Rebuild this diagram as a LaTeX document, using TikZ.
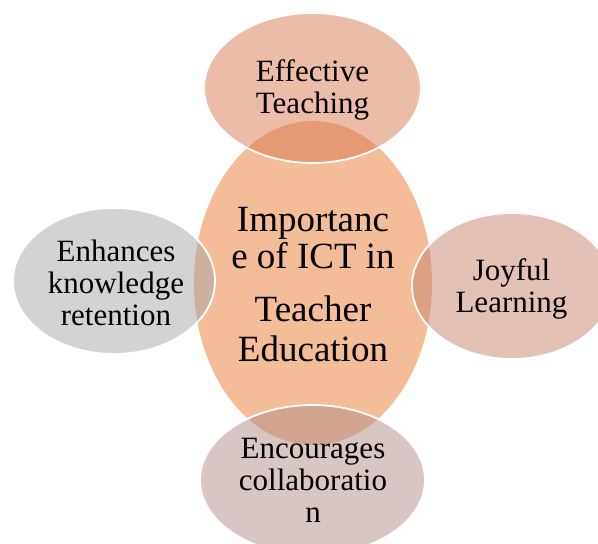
\documentclass[tikz,border=0pt]{standalone}
\usepackage{fontspec}
\setmainfont{Liberation Serif}
\usetikzlibrary{shapes.geometric}
\definecolor{cmain}{RGB}{245,189,151}
\definecolor{ctop}{RGB}{215,121,81}
\definecolor{cleft}{RGB}{167,167,167}
\definecolor{cright}{RGB}{197,131,111}
\definecolor{cbot}{RGB}{177,141,139}
\tikzset{
  blob/.style={ellipse, inner sep=0pt, outer sep=0pt},
  sat/.style={blob, fill opacity=0.5, draw=white, draw opacity=1, line width=1.8pt},
  sattext/.style={align=center, font=\fontsize{31}{32}\selectfont, text=black, inner sep=0pt},
  maintext/.style={align=center, font=\fontsize{37}{37}\selectfont, text=black, inner sep=0pt}
}
\begin{document}
\begin{tikzpicture}[x=1pt,y=-1pt]
\useasboundingbox (0,0) rectangle (598,544);
% central ellipse
\node[blob, fill=cmain, minimum width=238pt, minimum height=324pt] (main) at (313,283) {};
% satellites
\node[sat, fill=ctop, minimum width=217pt, minimum height=150pt] (top) at (312.5,88) {};
\node[sat, fill=cleft, minimum width=202pt, minimum height=146pt] (left) at (114,281) {};
\node[sat, fill=cright, minimum width=200pt, minimum height=146pt] (right) at (512,286) {};
\node[sat, fill=cbot, minimum width=225pt, minimum height=150pt] (bot) at (312.5,480) {};
% texts
\node[maintext] (maint) at (313,284.7) {Importanc\\e of ICT in\\[16pt]Teacher\\[3pt]Education};
\node[sattext] (topt) at (312.5,89.8) {Effective\\Teaching};
\node[sattext] (leftt) at (116,282.4) {Enhances\\knowledge\\retention};
\node[sattext] (rightt) at (511.5,288.8) {Joyful\\Learning};
\node[sattext] (bott) at (313,480.3) {Encourages\\collaboratio\\n};
\end{tikzpicture}
\end{document}
